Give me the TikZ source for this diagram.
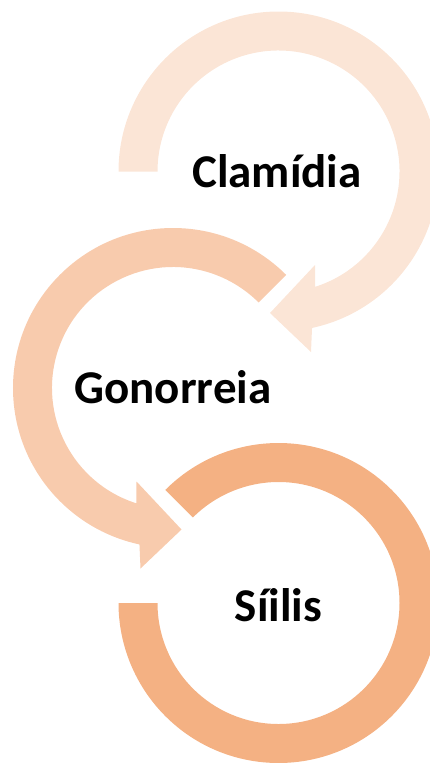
\documentclass[tikz,border=0pt]{standalone}
\usepackage{fontspec}
\setmainfont{Carlito}
\definecolor{ringA}{HTML}{FBE5D6}
\definecolor{ringB}{HTML}{F8CBAD}
\definecolor{ringC}{HTML}{F4B183}
\begin{document}
\begin{tikzpicture}[x=1pt,y=1pt,
  lbl/.style={font=\bfseries\fontsize{47}{50}\selectfont, text=black, inner sep=0pt, anchor=base}]
\useasboundingbox (0,0) rectangle (430,-763);
\coordinate (C1) at (278.5,-171.5);
\coordinate (C2) at (173,-388);
\coordinate (C3) at (278.5,-603);
% arrow head points, ring 1
\coordinate (A1o) at ([shift={(32.5,-180.5)}]C1);
\coordinate (A1t) at ([shift={(-8.5,-141.5)}]C1);
\coordinate (A1i) at ([shift={(36.5,-93.5)}]C1);
% arrow head points, ring 2 (mirror)
\coordinate (A2o) at ([shift={(-32.5,-180.5)}]C2);
\coordinate (A2t) at ([shift={(8.5,-141.5)}]C2);
\coordinate (A2i) at ([shift={(-36.5,-93.5)}]C2);
% ring 1 (clockwise, arrow at bottom pointing left)
\fill[ringA] ([shift={(180:160pt)}]C1) arc[start angle=180,end angle=-77.9,radius=160pt]
  -- (A1o) -- (A1t) -- (A1i) -- ([shift={(-72.4:121pt)}]C1)
  arc[start angle=-72.4,end angle=180,radius=121pt] -- cycle;
% ring 2 (counter-clockwise, arrow at bottom pointing right)
\fill[ringB] ([shift={(45:160pt)}]C2) arc[start angle=45,end angle=257.9,radius=160pt]
  -- (A2o) -- (A2t) -- (A2i) -- ([shift={(252.4:121pt)}]C2)
  arc[start angle=252.4,end angle=45,radius=121pt] -- cycle;
% ring 3 (no arrow head)
\fill[ringC] ([shift={(135:160pt)}]C3) arc[start angle=135,end angle=-180,radius=160pt]
  -- ([shift={(180:121pt)}]C3)
  arc[start angle=-180,end angle=135,radius=121pt] -- cycle;
\node[lbl] (t1) at (277,-187) {Clamídia};
\node[lbl] (t2) at (173,-403) {Gonorreia};
\node[lbl] (t3) at (278.5,-621) {Síilis};
\end{tikzpicture}
\end{document}
